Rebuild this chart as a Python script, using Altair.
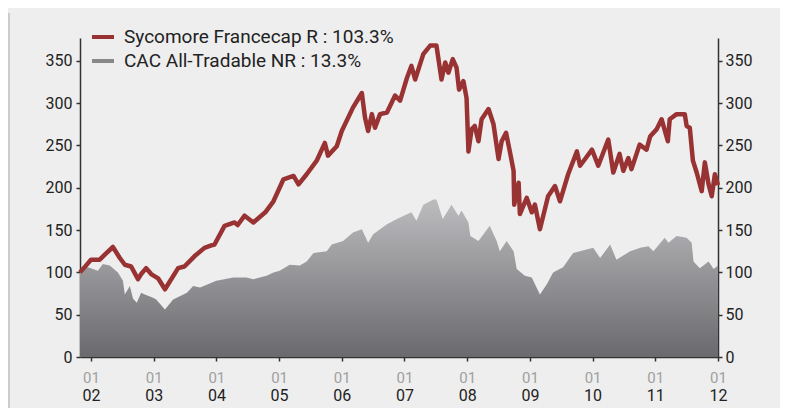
import altair as alt
import pandas as pd

# Sycomore Francecap R (base 100), decimal years
red_t = [2001.825, 2001.92, 2002.00, 2002.14, 2002.22, 2002.35, 2002.46, 2002.54, 2002.64, 2002.75,
         2002.80, 2002.88, 2002.96, 2003.07, 2003.18, 2003.23, 2003.39, 2003.49, 2003.65, 2003.81,
         2003.92, 2003.97, 2004.13, 2004.29, 2004.34, 2004.45, 2004.59, 2004.78, 2004.91, 2005.07,
         2005.23, 2005.31, 2005.44, 2005.60, 2005.73, 2005.78, 2005.92, 2006.00, 2006.18, 2006.32,
         2006.37, 2006.42, 2006.48, 2006.53, 2006.61, 2006.72, 2006.85, 2006.93, 2007.04, 2007.11,
         2007.17, 2007.30, 2007.41, 2007.51, 2007.59, 2007.65, 2007.70, 2007.77, 2007.83, 2007.87,
         2007.94, 2007.99, 2008.02, 2008.07, 2008.12, 2008.18, 2008.23, 2008.34, 2008.42, 2008.50,
         2008.55, 2008.62, 2008.68, 2008.74, 2008.75, 2008.82, 2008.84, 2008.95, 2009.03, 2009.08,
         2009.16, 2009.29, 2009.40, 2009.48, 2009.61, 2009.75, 2009.80, 2009.88, 2009.99, 2010.09,
         2010.25, 2010.33, 2010.43, 2010.49, 2010.57, 2010.62, 2010.75, 2010.86, 2010.92, 2011.02,
         2011.10, 2011.20, 2011.23, 2011.34, 2011.47, 2011.50, 2011.55, 2011.60, 2011.66, 2011.74,
         2011.79, 2011.85, 2011.90, 2011.95, 2012.00]
red_v = [100, 108, 115, 115, 121, 130, 117, 109, 107, 92,
         98, 105, 98, 93, 80, 86, 105, 107, 119, 129,
         132, 133, 155, 159, 156, 167, 159, 171, 184, 210,
         214, 204, 216, 232, 253, 238, 249, 267, 295, 312,
         283, 267, 287, 271, 287, 289, 309, 303, 330, 344,
         328, 358, 368, 368, 328, 348, 336, 352, 342, 316,
         326, 306, 243, 269, 273, 255, 281, 293, 275, 234,
         255, 265, 243, 220, 180, 206, 169, 188, 171, 180,
         151, 190, 202, 184, 216, 243, 226, 234, 245, 226,
         257, 218, 240, 220, 235, 222, 251, 245, 261, 269,
         281, 255, 281, 287, 287, 273, 271, 232, 218, 196,
         230, 204, 190, 216, 203]

# CAC All-Tradable NR (base 100), decimal years
gray_t = [2001.825, 2001.88, 2001.95, 2002.11, 2002.19, 2002.30, 2002.43, 2002.51, 2002.54, 2002.62,
          2002.67, 2002.73, 2002.80, 2002.86, 2002.99, 2003.04, 2003.18, 2003.31, 2003.53, 2003.63,
          2003.74, 2004.00, 2004.27, 2004.48, 2004.59, 2004.80, 2004.91, 2005.01, 2005.17, 2005.33,
          2005.44, 2005.55, 2005.76, 2005.84, 2006.02, 2006.18, 2006.32, 2006.42, 2006.50, 2006.72,
          2006.88, 2006.93, 2007.11, 2007.19, 2007.30, 2007.46, 2007.51, 2007.61, 2007.75, 2007.86,
          2007.91, 2008.02, 2008.05, 2008.18, 2008.36, 2008.47, 2008.52, 2008.63, 2008.74, 2008.79,
          2008.92, 2009.03, 2009.16, 2009.27, 2009.37, 2009.53, 2009.69, 2010.01, 2010.12, 2010.28,
          2010.38, 2010.60, 2010.76, 2010.89, 2010.97, 2011.15, 2011.21, 2011.34, 2011.50, 2011.58,
          2011.61, 2011.71, 2011.85, 2011.93, 2012.00]
gray_v = [100, 104, 106, 102, 110, 108, 100, 90, 74, 84,
          69, 64, 76, 74, 70, 68, 56, 68, 76, 84,
          82, 90, 94, 94, 92, 96, 100, 102, 109, 108,
          113, 123, 125, 133, 137, 147, 151, 135, 145, 157,
          163, 165, 171, 161, 180, 186, 186, 163, 180, 167,
          173, 159, 143, 137, 155, 137, 125, 137, 125, 104,
          96, 94, 74, 86, 100, 106, 123, 129, 117, 133,
          115, 125, 129, 131, 125, 141, 135, 143, 141, 135,
          113, 105, 113, 104, 108]

series_names = ["Sycomore Francecap R : 103.3%", "CAC All-Tradable NR : 13.3%"]
series_colors = ["#993333", "#888888"]
year_ticks = list(range(2002, 2013))
y_ticks = [0, 50, 100, 150, 200, 250, 300, 350]

red_df = pd.DataFrame({"t": red_t, "v": red_v, "s": series_names[0]})
gray_df = pd.DataFrame({"t": gray_t, "v": gray_v})

FONT = "Roboto"
xscale = alt.Scale(domain=[2001.825, 2012.0], nice=False, zero=False)
yscale = alt.Scale(domain=[0, 377], nice=False)

axis_common = dict(grid=False, domainColor="#333333", domainWidth=1.5, tickColor="#333333",
                   tickWidth=1.5, tickSize=4, labelFont=FONT, labelFontSize=16, labelColor="#222222")

grad = alt.Gradient(
    gradient="linear",
    stops=[alt.GradientStop(color="#bcbcbf", offset=0), alt.GradientStop(color="#6a6a6e", offset=1)],
    x1=0, x2=0, y1=0, y2=1,
)

x_axis_month = {k: v for k, v in axis_common.items() if k not in ("labelColor", "labelFontSize")}

area = alt.Chart(gray_df).mark_area(color=grad, interpolate="linear").encode(
    x=alt.X("t:Q", scale=xscale, title=None,
            axis=alt.Axis(orient="bottom", values=year_ticks, labelExpr="'01'", labelColor="#a0a0a0",
                          labelFontSize=15, labelPadding=9, labelFlush=False, labelOverlap=False,
                          **x_axis_month)),
    y=alt.Y("v:Q", scale=yscale, title=None,
            axis=alt.Axis(orient="left", values=y_ticks, labelPadding=4, **axis_common)),
)

line = alt.Chart(red_df).mark_line(strokeWidth=4.5, strokeJoin="round").encode(
    x=alt.X("t:Q", scale=xscale, title=None,
            axis=alt.Axis(orient="bottom", values=year_ticks, labelExpr="slice(toString(datum.value), 2)",
                          domain=False, ticks=False, labelPadding=30, grid=False, labelFont=FONT,
                          labelFontSize=16, labelColor="#222222", labelFlush=False, labelOverlap=False)),
    y=alt.Y("v:Q", scale=yscale, title=None,
            axis=alt.Axis(orient="right", values=y_ticks, labelPadding=3, **axis_common)),
    color=alt.Color("s:N", scale=alt.Scale(domain=series_names, range=series_colors),
                    legend=alt.Legend(orient="none", legendX=10, legendY=-14, title=None,
                                      symbolType="stroke", symbolStrokeWidth=4, symbolSize=484,
                                      labelFont=FONT, labelFontSize=19, labelColor="#222222",
                                      labelOffset=8, rowPadding=1, padding=0, labelLimit=0)),
)

frame = alt.Chart(pd.DataFrame({"a": [0]})).mark_rule(color="#cccccc", strokeWidth=2).encode(
    x=alt.value(-71), y=alt.value(-25), y2=alt.value(372)
)

chart = alt.layer(frame, area, line).resolve_axis(x="independent", y="independent").properties(
    width=638, height=319,
    padding={"left": 0, "top": 4, "right": 28, "bottom": 0},
    background="#eeeeee",
).configure_view(stroke=None)

chart.save("out.html", embed_options={"renderer": "svg", "actions": False})
